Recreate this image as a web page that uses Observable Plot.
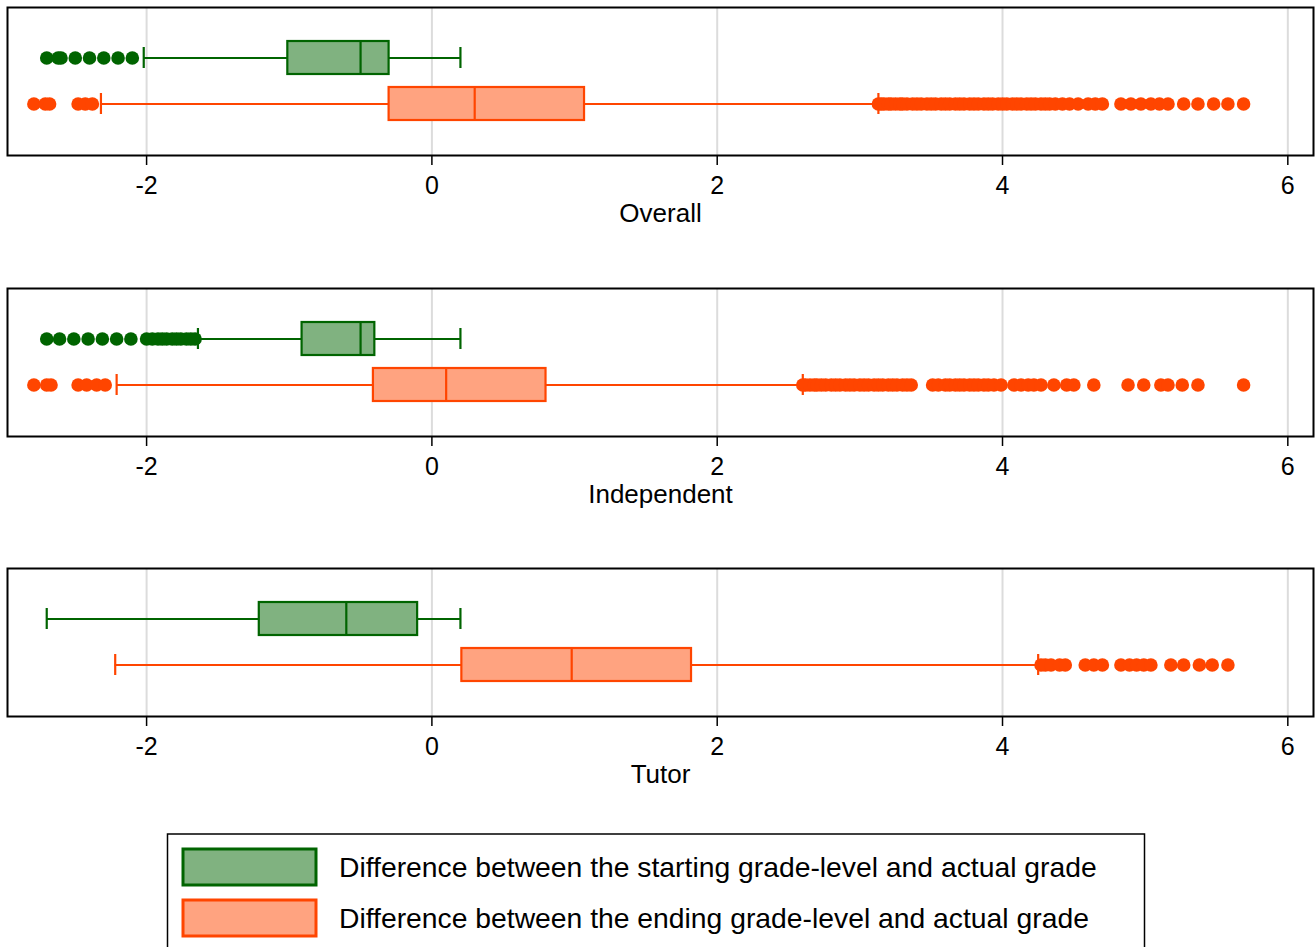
<!DOCTYPE html>
<html>
<head>
<meta charset="utf-8">
<script src="https://cdn.jsdelivr.net/npm/d3@7"></script>
<script src="https://cdn.jsdelivr.net/npm/@observablehq/plot@0.6"></script>
<style>
  body { margin: 0; background: #fff; overflow: hidden; font-family: "Liberation Sans", Arial, sans-serif; }
  #chart { width: 1315px; height: 947px; }
  #chart svg { display: block; }
</style>
</head>
<body>
<div id="chart"></div>
<script>
// Panels (one box-plot panel per group of students)
const panels = ["Overall", "Independent", "Tutor"];

// Two series per panel: start-level gap and end-level gap
const seriesKeys = ["start", "end"];
const seriesLabels = [
  "Difference between the starting grade-level and actual grade",
  "Difference between the ending grade-level and actual grade"
];
const strokeColors = ["#006400", "#ff4500"];
const fillColors = ["#80b280", "#ffa380"];

// Box-plot summaries, per panel: [start, end]
const whiskerLow  = [[-2.02, -2.32], [-1.64, -2.21], [-2.70, -2.22]];
const q1          = [[-1.01, -0.30], [-0.91, -0.41], [-1.21,  0.21]];
const median      = [[-0.50,  0.30], [-0.50,  0.10], [-0.60,  0.98]];
const q3          = [[-0.30,  1.07], [-0.40,  0.80], [-0.10,  1.82]];
const whiskerHigh = [[ 0.20,  3.13], [ 0.20,  2.60], [ 0.20,  4.25]];

// Outside values
const overallStartOut = [-2.70, -2.62, -2.60, -2.50, -2.40, -2.30, -2.20, -2.10];
const overallEndOut = [-2.79, -2.71, -2.68, -2.48, -2.43, -2.38,
  3.13, 3.15, 3.17, 3.20, 3.22, 3.25, 3.28, 3.30, 3.33, 3.37, 3.40, 3.43, 3.47, 3.50,
  3.53, 3.57, 3.60, 3.63, 3.67, 3.70, 3.73, 3.77, 3.80, 3.83, 3.87, 3.90, 3.93, 3.97,
  4.00, 4.03, 4.07, 4.10, 4.13, 4.17, 4.20, 4.23, 4.27, 4.30, 4.33, 4.37, 4.42, 4.47,
  4.53, 4.60, 4.65, 4.70, 4.83, 4.90, 4.97, 5.04, 5.10, 5.16, 5.27, 5.37, 5.48, 5.58, 5.69];
const independentStartOut = [-2.70, -2.61, -2.51, -2.41, -2.31, -2.21, -2.11, -2.00,
  -1.96, -1.92, -1.89, -1.86, -1.82, -1.79, -1.76, -1.72, -1.69, -1.66];
const independentEndOut = [-2.79, -2.70, -2.67, -2.48, -2.42, -2.35, -2.29,
  2.60, 2.62, 2.65, 2.68, 2.70, 2.73, 2.76, 2.80, 2.83, 2.86, 2.90, 2.93, 2.96, 3.00,
  3.03, 3.06, 3.10, 3.13, 3.16, 3.20, 3.23, 3.26, 3.30, 3.33, 3.36, 3.51, 3.55, 3.60,
  3.63, 3.67, 3.70, 3.73, 3.77, 3.80, 3.83, 3.87, 3.90, 3.94, 3.99, 4.08, 4.13, 4.18,
  4.22, 4.27, 4.36, 4.45, 4.50, 4.64, 4.88, 4.99, 5.11, 5.16, 5.26, 5.37, 5.69];
const tutorStartOut = [];
const tutorEndOut = [4.27, 4.30, 4.34, 4.40, 4.44, 4.58, 4.64, 4.70, 4.83, 4.89, 4.94,
  4.99, 5.04, 5.18, 5.27, 5.38, 5.47, 5.58];

const outliers = [
  [overallStartOut, overallEndOut],
  [independentStartOut, independentEndOut],
  [tutorStartOut, tutorEndOut]
];

// x-axis ticks
const xTicks = [-2, 0, 2, 4, 6];

const panelHeights = [281, 280, 272];
const chart = document.getElementById("chart");

panels.forEach((name, i) => {
  const marks = [
    Plot.gridX(xTicks, {stroke: "#dcdcdc", strokeOpacity: 1, strokeWidth: 2})
  ];
  seriesKeys.forEach((key, j) => {
    const row = [{series: key, lo: whiskerLow[i][j], q1: q1[i][j], med: median[i][j], q3: q3[i][j], hi: whiskerHigh[i][j]}];
    const pts = outliers[i][j].map(x => ({series: key, x}));
    const stroke = strokeColors[j];
    marks.push(
      Plot.ruleY(row, {y: "series", x1: "lo", x2: "hi", stroke, strokeWidth: 2}),
      Plot.tickX(row, {x: "lo", y: "series", stroke, strokeWidth: 2.2, insetTop: 6, insetBottom: 6}),
      Plot.tickX(row, {x: "hi", y: "series", stroke, strokeWidth: 2.2, insetTop: 6, insetBottom: 6}),
      Plot.dot(pts, {x: "x", y: "series", r: 6.8, fill: stroke, stroke: "none"}),
      Plot.barX(row, {x1: "q1", x2: "q3", y: "series", fill: fillColors[j], stroke, strokeWidth: 2.2}),
      Plot.tickX(row, {x: "med", y: "series", stroke, strokeWidth: 2.2})
    );
  });
  marks.push(
    Plot.axisX({ticks: xTicks, tickFormat: d => String(d), tickSize: 10, tickPadding: 11,
      fontSize: 25, strokeWidth: 1.5, label: null, fill: "#000"}),
    Plot.text([name], {frameAnchor: "bottom", dy: 66, text: d => d, fontSize: 26, fill: "#000"}),
    Plot.frame({stroke: "#000", strokeWidth: 2})
  );
  const h = panelHeights[i];
  const svg = Plot.plot({
    width: 1315,
    height: h,
    marginTop: 7,
    marginLeft: 7,
    marginRight: 2,
    marginBottom: h - 155,
    style: {fontFamily: "'Liberation Sans', Arial, sans-serif", color: "#000", background: "#fff"},
    x: {domain: [-2.975, 6.18]},
    y: {domain: seriesKeys, paddingInner: 0.277, paddingOuter: 0.713, axis: null},
    marks
  });
  chart.appendChild(svg);
});

// Legend
const ns = "http://www.w3.org/2000/svg";
const legend = document.createElementNS(ns, "svg");
legend.setAttribute("width", 1315);
legend.setAttribute("height", 114);
legend.setAttribute("font-family", "'Liberation Sans', Arial, sans-serif");
const box = document.createElementNS(ns, "rect");
Object.entries({x: 167.5, y: 1, width: 977, height: 200, fill: "#fff", stroke: "#000", "stroke-width": 1.5})
  .forEach(([k, v]) => box.setAttribute(k, v));
legend.appendChild(box);
seriesLabels.forEach((label, j) => {
  const y0 = 16 + j * 51;
  const sw = document.createElementNS(ns, "rect");
  Object.entries({x: 183, y: y0, width: 133, height: 36, fill: fillColors[j], stroke: strokeColors[j], "stroke-width": 3})
    .forEach(([k, v]) => sw.setAttribute(k, v));
  legend.appendChild(sw);
  const t = document.createElementNS(ns, "text");
  t.setAttribute("x", 339);
  t.setAttribute("y", y0 + 18);
  t.setAttribute("dy", "0.36em");
  t.setAttribute("font-size", 28.3);
  t.setAttribute("fill", "#000");
  t.textContent = label;
  legend.appendChild(t);
});
chart.appendChild(legend);
</script>
</body>
</html>
